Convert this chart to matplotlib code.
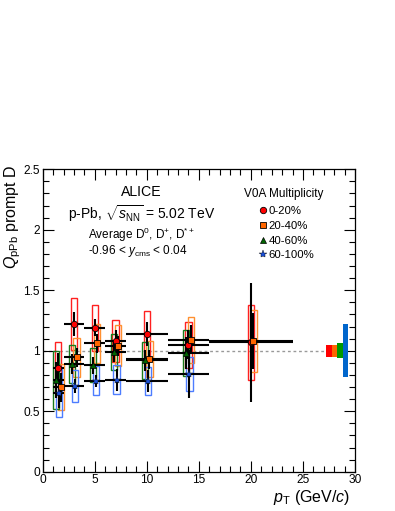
import numpy as np
import matplotlib
matplotlib.use("Agg")
import matplotlib.pyplot as plt
from matplotlib.lines import Line2D
from matplotlib.ticker import MultipleLocator, FormatStrFormatter

plt.rcParams['font.family'] = ['Liberation Sans', 'DejaVu Sans']
plt.rcParams['mathtext.fontset'] = 'custom'
plt.rcParams['mathtext.rm'] = 'Liberation Sans'
plt.rcParams['mathtext.it'] = 'Liberation Sans:italic'
plt.rcParams['mathtext.bf'] = 'Liberation Sans:bold'

# pT bins (GeV/c)
bin_lo = np.array([1, 2, 4, 6, 8, 12, 16])
bin_hi = np.array([2, 4, 6, 8, 12, 16, 24])

# 0-20%
red_pt = np.array([1.5, 3.0, 5.0, 7.0, 10.0, 14.0, 20.0])
red_q = np.array([0.86, 1.22, 1.19, 1.08, 1.14, 1.05, 1.07])
red_stat = np.array([0.12, 0.10, 0.07, 0.09, 0.10, 0.12, 0.49])
red_syst = np.array([0.21, 0.215, 0.19, 0.17, 0.19, 0.19, 0.31])

# 20-40%
orange_pt = np.array([1.75, 3.25, 5.25, 7.25, 10.25, 14.25, 20.25])
orange_q = np.array([0.70, 0.945, 1.06, 1.04, 0.93, 1.09, 1.08])
orange_stat = np.array([0.12, 0.08, 0.08, 0.08, 0.08, 0.12, 0.23])
orange_syst = np.array([0.19, 0.16, 0.165, 0.17, 0.15, 0.19, 0.255])

# 40-60%
green_pt = np.array([1.25, 2.85, 4.85, 6.85, 9.85, 13.8])
green_q = np.array([0.76, 0.89, 0.88, 0.99, 0.92, 0.98])
green_stat = np.array([0.15, 0.08, 0.07, 0.08, 0.09, 0.13])
green_syst = np.array([0.24, 0.155, 0.14, 0.15, 0.155, 0.19])

# 60-100%
blue_pt = np.array([1.6, 3.1, 5.1, 7.1, 10.1, 14.1])
blue_q = np.array([0.65, 0.71, 0.75, 0.76, 0.75, 0.81])
blue_stat = np.array([0.12, 0.06, 0.05, 0.09, 0.09, 0.20])
blue_syst = np.array([0.20, 0.13, 0.12, 0.12, 0.115, 0.14])

# normalisation uncertainties
norm_unc = [0.05, 0.05, 0.06, 0.22]

class_labels = ['0-20%', '20-40%', '40-60%', '60-100%']

fig = plt.figure(figsize=(3.95, 5.11), dpi=100)
ax = fig.add_axes([0.1081, 0.0769, 0.7906, 0.5918])

# (pt, q, stat, syst, marker, marker colour, box colour, marker size, edge width)
series = [
    (red_pt, red_q, red_stat, red_syst, 'o', '#ff0000', '#ff2020', 4.6, 0.6),
    (orange_pt, orange_q, orange_stat, orange_syst, 's', '#ff6600', '#ff9030', 4.3, 0.6),
    (green_pt, green_q, green_stat, green_syst, '^', '#006600', '#1a7a1a', 4.4, 0.5),
    (blue_pt, blue_q, blue_stat, blue_syst, '*', '#1a4fd6', '#4d7dff', 6.0, 0.3),
]

# syst boxes first
for pt, q, stat, syst, mk, mc, bc, ms, mew in series:
    ax.bar(pt, 2 * syst, bottom=q - syst, width=0.6, fill=False,
           edgecolor=bc, linewidth=1.0, zorder=2)

# stat errors + markers
for pt, q, stat, syst, mk, mc, bc, ms, mew in series:
    n = len(pt)
    xlo = pt - bin_lo[:n]
    xhi = bin_hi[:n] - pt
    ax.errorbar(pt, q, xerr=[xlo, xhi], yerr=stat, fmt='none',
                ecolor='black', elinewidth=1.5, capsize=0, zorder=3)
    ax.plot(pt, q, linestyle='none', marker=mk, color=mc,
            markeredgecolor='black', markeredgewidth=mew, markersize=ms, zorder=4)

# reference line and normalisation boxes
norm_x = [27.52, 28.05, 28.55, 29.07]
norm_col = ['#ff0000', '#ff6600', '#009900', '#0066cc']
ax.plot([0, 27.25], [1, 1], linestyle=(0, (2, 2)), color='#999999', linewidth=1.0, zorder=1)
for x, u, c in zip(norm_x, norm_unc, norm_col):
    ax.bar(x, 2 * u, bottom=1 - u, width=0.52, color=c, linewidth=0, zorder=2)

ax.set_xlim(0, 30)
ax.set_ylim(0, 2.5)
ax.xaxis.set_major_locator(MultipleLocator(5))
ax.xaxis.set_minor_locator(MultipleLocator(1))
ax.yaxis.set_major_locator(MultipleLocator(0.5))
ax.yaxis.set_minor_locator(MultipleLocator(0.1))
ax.yaxis.set_major_formatter(FormatStrFormatter('%g'))
ax.tick_params(which='both', direction='in', top=True, right=True, labelsize=8.6, width=0.8)
ax.tick_params(which='major', length=8, pad=2)
ax.tick_params(which='minor', length=4)
for s in ax.spines.values():
    s.set_linewidth(0.9)

W, H = 395.0, 511.0
fig.text(141.5 / W, 1 - 191.7 / H, 'ALICE', ha='center', va='center', fontsize=10.2)
fig.text(141.7 / W, 1 - 213.3 / H, r'p-Pb, $\sqrt{s_{\rm NN}}$ = 5.02 TeV',
         ha='center', va='center', fontsize=10)
fig.text(88.3 / W, 1 - 235 / H, r'Average D$^{0}$, D$^{+}$, D$^{*+}$',
         ha='left', va='center', fontsize=8.5)
fig.text(88.3 / W, 1 - 251 / H, r'-0.96 < $y_{\rm cms}$ < 0.04',
         ha='left', va='center', fontsize=8.5)
fig.text(283.5 / W, 1 - 194.3 / H, 'V0A Multiplicity', ha='center', va='center', fontsize=8.5)

handles = [Line2D([], [], linestyle='none', marker=s[4], color=s[5],
                  markeredgecolor='black', markeredgewidth=s[8], markersize=s[7])
           for s in series]
fig.legend(handles, class_labels, loc='upper left',
           bbox_to_anchor=(260 / W, 1 - 206 / H), frameon=False, fontsize=8.2,
           handlelength=0.6, handletextpad=0.15, borderpad=0, borderaxespad=0,
           labelspacing=0.42)

fig.text(12.5 / W, 1 - 165 / H, r'$Q_{\rm pPb}$ prompt D', rotation=90,
         ha='center', va='top', fontsize=11.5)
fig.text(350 / W, 1 - 497 / H, r'$p_{\rm T}$ (GeV/$c$)', ha='right', va='center', fontsize=11.5)

fig.savefig('out.png', dpi=100)
